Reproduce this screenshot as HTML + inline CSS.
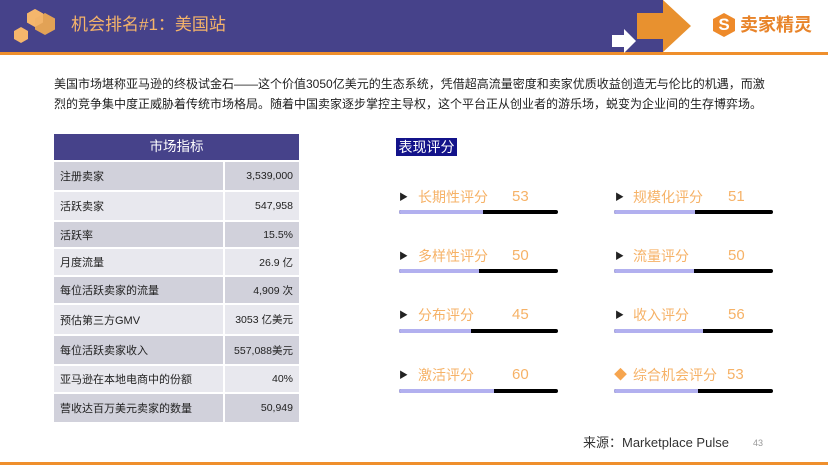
<!DOCTYPE html>
<html><head><meta charset="utf-8">
<style>
*{margin:0;padding:0;box-sizing:border-box}
body{width:828px;height:465px;position:relative;background:#fff;overflow:hidden;font-family:"Liberation Sans","Noto Sans CJK SC",sans-serif;color:#222}
.abs{position:absolute}
.para{left:54px;font-size:12px;line-height:20px;white-space:nowrap;color:#1e1e1e}
.row{position:absolute;left:54px;width:245px;font-size:11px}
.row .l{position:absolute;left:0;top:0;bottom:0;width:169px;padding-left:6px;display:flex;align-items:center}
.row .v{position:absolute;left:171px;top:0;bottom:0;width:74px;padding-right:6px;display:flex;align-items:center;justify-content:flex-end;font-size:10.5px}
.d .l,.d .v{background:#d1d1db}
.w .l,.w .v{background:#e8e8ee}
.item{position:absolute;height:20px;font-size:14px;color:#f6b267;line-height:20px;white-space:nowrap}
.tri{position:absolute;font-size:9px;color:#222;line-height:20px}
.bar{position:absolute;height:4px;width:159px;background:#000;border-radius:2px;overflow:hidden}
.bar i{display:block;height:4px;background:#b2b0ef}
</style></head><body>
<!-- header -->
<div class="abs" style="left:0;top:0;width:663px;height:52px;background:#46428a"></div>
<div class="abs" style="left:0;top:52px;width:828px;height:3px;background:#ef8f2c"></div>
<svg class="abs" style="left:0;top:0" width="828" height="55">
  <polygon points="35,9 43,13.5 43,22.5 35,27 27,22.5 27,13.5" fill="#f5b66c"/>
  <polygon points="45,13 55,18.5 55,29.5 45,35 35,29.5 35,18.5" fill="#e2a256"/>
  <polygon points="35,9 43,13.5 43,22.5 35,27 27,22.5 27,13.5" fill="#f5b66c" opacity="0.85"/>
  <polygon points="21,27 28,31 28,39 21,43 14,39 14,31" fill="#f5b66c"/>
  <polygon points="637,13 663,13 663,0 691,26 663,52 663,39 637,39" fill="#e8912f"/>
  <polygon points="612,35 624,35 624,29 636,41 624,53 624,47 612,47" fill="#ffffff"/>
  <polygon points="724,13 735,19 735,31 724,37 713,31 713,19" fill="#ee8a2a"/>
</svg>
<div class="abs" style="left:713px;top:13px;width:22px;height:24px;color:#fff;font-weight:bold;font-size:17px;line-height:24px;text-align:center">S</div>
<div class="abs" style="left:71px;top:14px;font-size:17px;line-height:22px;color:#f5b46a;white-space:nowrap">机会排名#1：美国站</div>
<div class="abs" style="left:740px;top:14px;font-size:18px;line-height:22px;color:#e8842a;font-weight:bold;white-space:nowrap">卖家精灵</div>

<!-- paragraph -->
<div class="abs para" style="top:74px">美国市场堪称亚马逊的终极试金石——这个价值3050亿美元的生态系统，凭借超高流量密度和卖家优质收益创造无与伦比的机遇，而激</div>
<div class="abs para" style="top:94px">烈的竞争集中度正威胁着传统市场格局。随着中国卖家逐步掌控主导权，这个平台正从创业者的游乐场，蜕变为企业间的生存博弈场。</div>

<!-- table -->
<div class="abs" style="left:54px;top:134px;width:245px;height:26px;background:#46428a;color:#fff;font-size:13.5px;line-height:26px;text-align:center">市场指标</div>
<div class="row d" style="top:162px;height:28px"><div class="l">注册卖家</div><div class="v">3,539,000</div></div>
<div class="row w" style="top:192px;height:28px"><div class="l">活跃卖家</div><div class="v">547,958</div></div>
<div class="row d" style="top:222px;height:25px"><div class="l">活跃率</div><div class="v">15.5%</div></div>
<div class="row w" style="top:249px;height:26px"><div class="l">月度流量</div><div class="v">26.9 亿</div></div>
<div class="row d" style="top:277px;height:26px"><div class="l">每位活跃卖家的流量</div><div class="v">4,909 次</div></div>
<div class="row w" style="top:305px;height:29px"><div class="l">预估第三方GMV</div><div class="v">3053 亿美元</div></div>
<div class="row d" style="top:336px;height:28px"><div class="l">每位活跃卖家收入</div><div class="v">557,088美元</div></div>
<div class="row w" style="top:366px;height:26px"><div class="l">亚马逊在本地电商中的份额</div><div class="v">40%</div></div>
<div class="row d" style="top:394px;height:28px"><div class="l">营收达百万美元卖家的数量</div><div class="v">50,949</div></div>

<!-- right panel -->
<div class="abs" style="left:396px;top:138px;width:61px;height:18px;background:#13138a;color:#fff;font-size:14px;line-height:18px;text-align:center">表现评分</div>

<!-- left column -->
<div class="tri" style="left:399px;top:187px">▶</div>
<div class="item" style="left:418px;top:187px">长期性评分</div>
<div class="item" style="left:512px;top:187px;font-size:15px">53</div>
<div class="bar" style="left:399px;top:210px"><i style="width:53%"></i></div>

<div class="tri" style="left:399px;top:246px">▶</div>
<div class="item" style="left:418px;top:246px">多样性评分</div>
<div class="item" style="left:512px;top:246px;font-size:15px">50</div>
<div class="bar" style="left:399px;top:269px"><i style="width:50%"></i></div>

<div class="tri" style="left:399px;top:305px">▶</div>
<div class="item" style="left:418px;top:305px">分布评分</div>
<div class="item" style="left:512px;top:305px;font-size:15px">45</div>
<div class="bar" style="left:399px;top:329px"><i style="width:45%"></i></div>

<div class="tri" style="left:399px;top:365px">▶</div>
<div class="item" style="left:418px;top:365px">激活评分</div>
<div class="item" style="left:512px;top:365px;font-size:15px">60</div>
<div class="bar" style="left:399px;top:389px"><i style="width:60%"></i></div>

<!-- right column -->
<div class="tri" style="left:615px;top:187px">▶</div>
<div class="item" style="left:633px;top:187px">规模化评分</div>
<div class="item" style="left:728px;top:187px;font-size:15px">51</div>
<div class="bar" style="left:614px;top:210px"><i style="width:51%"></i></div>

<div class="tri" style="left:615px;top:246px">▶</div>
<div class="item" style="left:633px;top:246px">流量评分</div>
<div class="item" style="left:728px;top:246px;font-size:15px">50</div>
<div class="bar" style="left:614px;top:269px"><i style="width:50%"></i></div>

<div class="tri" style="left:615px;top:305px">▶</div>
<div class="item" style="left:633px;top:305px">收入评分</div>
<div class="item" style="left:728px;top:305px;font-size:15px">56</div>
<div class="bar" style="left:614px;top:329px"><i style="width:56%"></i></div>

<div class="item" style="left:614px;top:365px;font-size:13px;color:#f6a54f">◆</div>
<div class="item" style="left:633px;top:365px">综合机会评分</div>
<div class="item" style="left:727px;top:365px;font-size:15px">53</div>
<div class="bar" style="left:614px;top:389px"><i style="width:53%"></i></div>

<!-- footer -->
<div class="abs" style="left:583px;top:434px;font-size:13px;line-height:18px;color:#333;white-space:nowrap">来源：Marketplace Pulse</div>
<div class="abs" style="left:753px;top:437px;font-size:9px;line-height:12px;color:#999">43</div>
<div class="abs" style="left:0;top:462px;width:828px;height:3px;background:#ef8f2c"></div>
</body></html>
